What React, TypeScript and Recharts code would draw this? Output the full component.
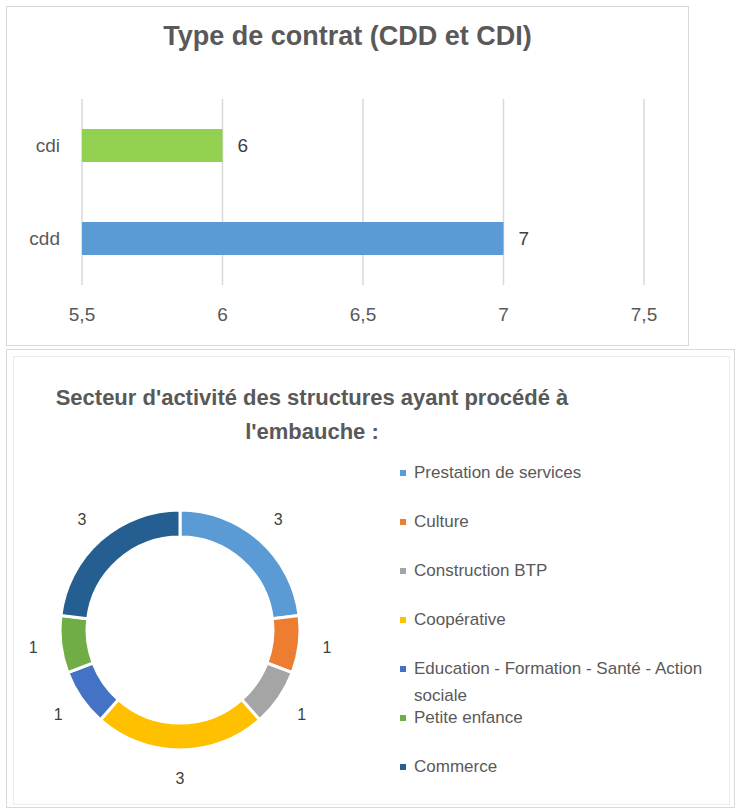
import React from "react";
import {
  BarChart, Bar, XAxis, YAxis, CartesianGrid, LabelList,
  PieChart, Pie, Cell, Legend,
} from "recharts";

const contractCategories = ["cdi", "cdd"];
const contractValues = [6, 7];
const contractColors = ["#92D050", "#5B9BD5"];
const contractTicks = [5.5, 6, 6.5, 7, 7.5];

const sectorNames = [
  "Prestation de services",
  "Culture",
  "Construction BTP",
  "Coopérative",
  "Education - Formation - Santé - Action sociale",
  "Petite enfance",
  "Commerce",
];
const sectorValues = [3, 1, 1, 3, 1, 1, 3];
const sectorColors = ["#5B9BD5", "#ED7D31", "#A5A5A5", "#FFC000", "#4472C4", "#70AD47", "#255E91"];

const FONT = "'Liberation Sans', 'DejaVu Sans', sans-serif";

const barData = contractCategories.map((name, i) => ({ name, value: contractValues[i] }));
const pieData = sectorNames.map((name, i) => ({ name, value: sectorValues[i] }));

const RAD = Math.PI / 180;
const renderPieLabel = (props: any) => {
  const { cx, cy, midAngle, outerRadius, value } = props;
  const r = outerRadius + 28;
  const x = cx + r * Math.cos(-midAngle * RAD);
  const y = cy + r * Math.sin(-midAngle * RAD);
  return (
    <text x={x} y={y} fill="#404040" fontSize={16} fontFamily={FONT} textAnchor="middle" dominantBaseline="central">
      {value}
    </text>
  );
};

const renderLegend = () => {
  return (
    <div style={{ fontFamily: FONT, fontSize: 17, color: "#595959" }}>
      {sectorNames.map((name, i) => (
        <div key={name} style={{ height: 49, display: "flex", alignItems: "flex-start" }}>
          <div style={{ width: 6, height: 6, background: sectorColors[i], marginTop: 11, marginRight: 8, flex: "none" }} />
          <div style={{ width: 300, lineHeight: "27px" }}>{name}</div>
        </div>
      ))}
    </div>
  );
};

export default function App() {
  return (
    <div style={{ position: "absolute", left: 0, top: 0, width: 736, height: 810, background: "#fff" }}>
      <div style={{ position: "absolute", left: 6, top: 6, width: 681, height: 338, border: "1px solid #d9d9d9" }}>
        <div style={{ position: "absolute", left: 0, right: 0, top: 14, textAlign: "center", fontFamily: FONT, fontWeight: "bold", fontSize: 27, color: "#595959" }}>
          Type de contrat (CDD et CDI)
        </div>
        <div style={{ position: "absolute", left: 0, top: 0 }}>
          <BarChart
            width={681}
            height={338}
            data={barData}
            layout="vertical"
            margin={{ top: 92, right: 44, bottom: 0, left: 15 }}
          >
            <CartesianGrid horizontal={false} stroke="#d9d9d9" strokeWidth={1.5} />
            <XAxis
              type="number"
              domain={[5.5, 7.5]}
              ticks={contractTicks}
              allowDataOverflow
              axisLine={false}
              tickLine={false}
              tickMargin={17}
              height={60}
              tick={{ fill: "#595959", fontSize: 19, fontFamily: FONT }}
              tickFormatter={(v: number) => String(v).replace(".", ",")}
            />
            <YAxis
              type="category"
              dataKey="name"
              width={60}
              axisLine={false}
              tickLine={false}
              tickMargin={16}
              tick={{ fill: "#595959", fontSize: 19, fontFamily: FONT }}
            />
            <Bar dataKey="value" barSize={33} isAnimationActive={false}>
              {barData.map((d, i) => (
                <Cell key={d.name} fill={contractColors[i]} />
              ))}
              <LabelList dataKey="value" position="right" offset={15} fill="#404040" fontSize={19} fontFamily={FONT} />
            </Bar>
          </BarChart>
        </div>
      </div>

      <div style={{ position: "absolute", left: 6, top: 349, width: 727, height: 457, border: "1px solid #d9d9d9" }}>
        <div style={{ position: "absolute", left: 6, top: 6, right: 4, bottom: 2, border: "1px solid #ececec" }} />
        <div style={{ position: "absolute", left: 0, width: 610, top: 31, textAlign: "center", fontFamily: FONT, fontWeight: "bold", fontSize: 22, lineHeight: "34px", color: "#595959" }}>
          Secteur d'activité des structures ayant procédé à
          <br />
          l'embauche :
        </div>
        <div style={{ position: "absolute", left: 0, top: 0 }}>
          <PieChart width={727} height={457} margin={{ top: 0, right: 0, bottom: 0, left: 0 }}>
            <Pie
              data={pieData}
              dataKey="value"
              nameKey="name"
              cx={173}
              cy={280}
              outerRadius={120}
              innerRadius={93}
              startAngle={90}
              endAngle={-270}
              stroke="#ffffff"
              strokeWidth={3}
              label={renderPieLabel}
              labelLine={false}
              isAnimationActive={false}
            >
              {pieData.map((d, i) => (
                <Cell key={d.name} fill={sectorColors[i]} />
              ))}
            </Pie>
            <Legend
              layout="vertical"
              content={renderLegend}
              wrapperStyle={{ left: 393, top: 109, width: 330, bottom: "auto", right: "auto" }}
            />
          </PieChart>
        </div>
      </div>
    </div>
  );
}
